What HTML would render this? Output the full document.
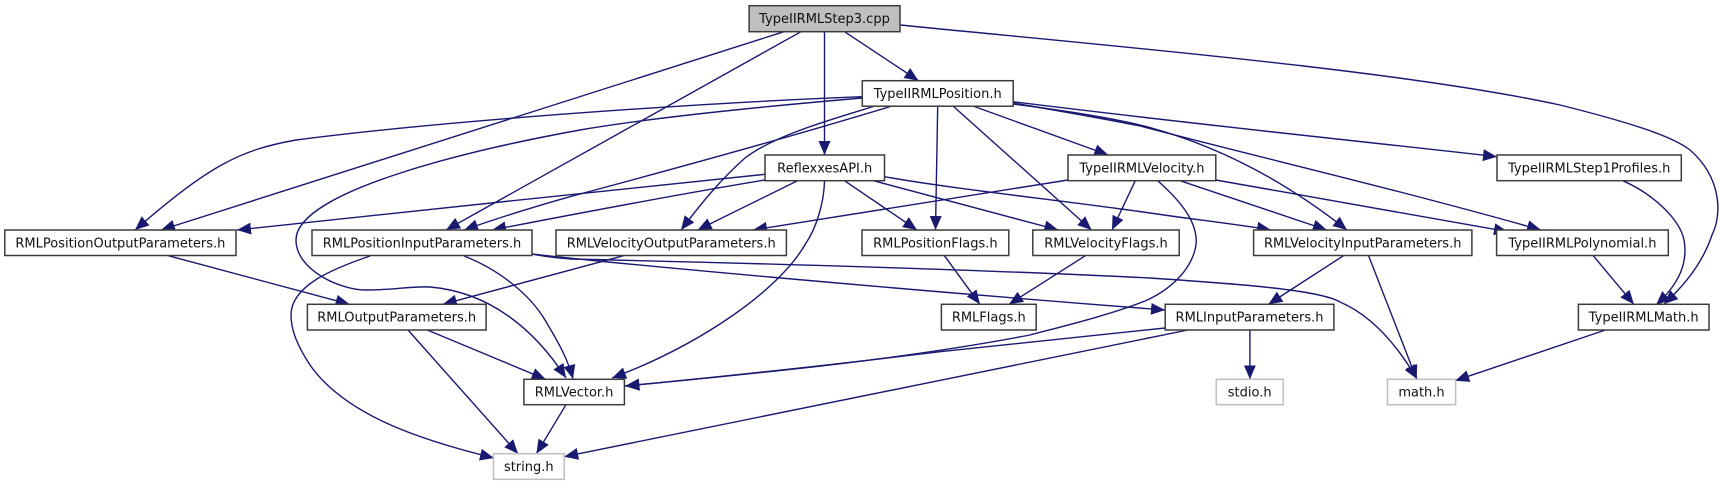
<!DOCTYPE html>
<html><head><meta charset="utf-8"><style>
html,body{margin:0;padding:0;background:#fff}
svg{display:block}
text{font-family:"DejaVu Sans",sans-serif;font-size:13px;fill:#111;text-anchor:middle}
.b{fill:#fff;stroke:#3c3c3c;stroke-width:1.5}
.g{fill:#fff;stroke:#bfbfbf;stroke-width:1.5}
.t{fill:#bfbfbf;stroke:#3c3c3c;stroke-width:1.5}
path{fill:none;stroke:#191970;stroke-width:1.4;marker-end:url(#a)}
</style></head><body>
<svg width="1721" height="485" viewBox="0 0 1721 485" xmlns="http://www.w3.org/2000/svg">
<defs><marker id="a" markerUnits="userSpaceOnUse" markerWidth="16" markerHeight="14" refX="14" refY="6" orient="auto"><polygon points="0,0 14,6 0,12" fill="#191970"/></marker></defs>
<path d="M784,31.7L161,230"/>
<path d="M801,31.7L446,230"/>
<path d="M824.5,31.7L824.5,155"/>
<path d="M844.5,31.7L918.5,80.7"/>
<path d="M900,25C1100,45 1400,70 1560,105C1640,125 1675,138 1690,150C1722,178 1722,215 1712,235C1703,262 1685,285 1664,304"/>
<path d="M862,96.7C700,103 450,120 296,140C240,150 210,165 135,230"/>
<path d="M862,98C700,112 620,123 580,130C480,148 296,190 296,240C296,270 340,290 366,290C395,290 410,286 430,287C490,292 535,330 566,378"/>
<path d="M890,106.7C780,140 670,170 570,196.7C530,208 495,219 464,230"/>
<path d="M875,106C830,120 775,135 745,158C720,180 700,205 681,230"/>
<path d="M937.7,106L935.5,230"/>
<path d="M953,106L1091.6,230"/>
<path d="M973,106L1108.3,155"/>
<path d="M1013,101.7C1200,125 1350,140 1497,156.7"/>
<path d="M1013,104C1060,110 1110,118 1140,125C1220,145 1290,185 1347,230"/>
<path d="M1013,103C1060,111 1100,118 1140,126C1270,160 1400,190 1541,230"/>
<path d="M765,174.3C600,191 400,213 237,230"/>
<path d="M765,180C680,194 580,213 492,230"/>
<path d="M797.5,180.7L697.6,230"/>
<path d="M824.5,181C824,205 815,230 806,243C780,290 700,345 612,378"/>
<path d="M844.5,180.7L917,230"/>
<path d="M873.4,180.7L1058.3,230"/>
<path d="M884.5,176.7C960,190 1060,200 1150,213C1190,219 1235,224 1271,230"/>
<path d="M1068,180L753,230"/>
<path d="M1135.3,180.7L1112,230"/>
<path d="M1180,180.7L1326.8,230"/>
<path d="M1215.8,180L1508,231.7"/>
<path d="M1158,181C1185,205 1198,225 1196,245C1192,270 1170,290 1145,301C1110,315 1060,327 1030,335C900,360 760,373 625,386"/>
<path d="M168.3,255.7L349.6,304.3"/>
<path d="M623.6,255.7L442.8,304.3"/>
<path d="M370,256C335,268 291,285 291,315C291,330 297,345 310,365C345,415 420,440 494,458"/>
<path d="M464,256C500,270 530,295 545,320C560,345 568,360 573,379"/>
<path d="M532,254C610,263 880,288 1165,310"/>
<path d="M532,254C545,257 560,258 570,259C700,262 950,268 1150,278C1240,284 1320,290 1340,302C1375,317 1400,350 1417,379"/>
<path d="M944.4,255.7L979.9,304.3"/>
<path d="M1085.4,255.7L1009,304.3"/>
<path d="M1343.5,255.7L1268.4,304.3"/>
<path d="M1368.6,255.7L1416.7,379.3"/>
<path d="M1593.2,255.7L1633.9,304.3"/>
<path d="M1605.4,330L1455.2,380.7"/>
<path d="M427.3,330L545.7,379.3"/>
<path d="M408,330L518,453.7"/>
<path d="M566,404.7L536.4,453.7"/>
<path d="M1249.9,330L1249.9,379.3"/>
<path d="M1165.2,328C1100,335 1020,343 940,351.7C830,365 720,377 625.5,386"/>
<path d="M1188,330L564.2,456.7"/>
<path d="M1622.8,180.7C1655,195 1680,220 1684,240C1688,262 1680,283 1656,305"/>

<rect class="t" x="749.1" y="5.7" width="150.9" height="26"/><text x="824.5" y="23.2">TypeIIRMLStep3.cpp</text>
<rect class="b" x="862.3" y="80.7" width="150.9" height="25.5"/><text x="937.7" y="98">TypeIIRMLPosition.h</text>
<rect class="b" x="765" y="155" width="119.5" height="25.7"/><text x="824.7" y="172.4">ReflexxesAPI.h</text>
<rect class="b" x="1068" y="155" width="147.8" height="25.7"/><text x="1141.9" y="172.4">TypeIIRMLVelocity.h</text>
<rect class="b" x="1497" y="155" width="184.3" height="25.7"/><text x="1589.2" y="172.4">TypeIIRMLStep1Profiles.h</text>
<rect class="b" x="4.8" y="230" width="231.2" height="25.5"/><text x="120.4" y="247.4">RMLPositionOutputParameters.h</text>
<rect class="b" x="312" y="230" width="220" height="25.5"/><text x="422" y="247.4">RMLPositionInputParameters.h</text>
<rect class="b" x="556" y="230" width="230.4" height="25.5"/><text x="671.2" y="247.4">RMLVelocityOutputParameters.h</text>
<rect class="b" x="862" y="230" width="146.8" height="25.5"/><text x="935.4" y="247.4">RMLPositionFlags.h</text>
<rect class="b" x="1032.8" y="230" width="146.4" height="25.5"/><text x="1106" y="247.4">RMLVelocityFlags.h</text>
<rect class="b" x="1253.6" y="230" width="218.3" height="25.5"/><text x="1362.7" y="247.4">RMLVelocityInputParameters.h</text>
<rect class="b" x="1496.6" y="230" width="171.7" height="25.5"/><text x="1582.4" y="247.4">TypeIIRMLPolynomial.h</text>
<rect class="b" x="307.4" y="304.3" width="178.7" height="25.7"/><text x="396.7" y="321.7">RMLOutputParameters.h</text>
<rect class="b" x="941.4" y="304.3" width="94.8" height="25.7"/><text x="988.8" y="321.7">RMLFlags.h</text>
<rect class="b" x="1165.2" y="304.3" width="168.7" height="25.7"/><text x="1249.5" y="321.7">RMLInputParameters.h</text>
<rect class="b" x="1578.4" y="304.3" width="130.6" height="25.7"/><text x="1643.7" y="321.7">TypeIIRMLMath.h</text>
<rect class="b" x="523.9" y="379.3" width="100.5" height="25.4"/><text x="574.1" y="396.6">RMLVector.h</text>
<rect class="g" x="1216.2" y="379.3" width="67" height="25.4"/><text x="1249.7" y="396.6">stdio.h</text>
<rect class="g" x="1387.5" y="379.3" width="68.1" height="25.4"/><text x="1421.5" y="396.6">math.h</text>
<rect class="g" x="493.5" y="453.7" width="70.7" height="25.6"/><text x="528.8" y="471.1">string.h</text>
</svg>
</body></html>
